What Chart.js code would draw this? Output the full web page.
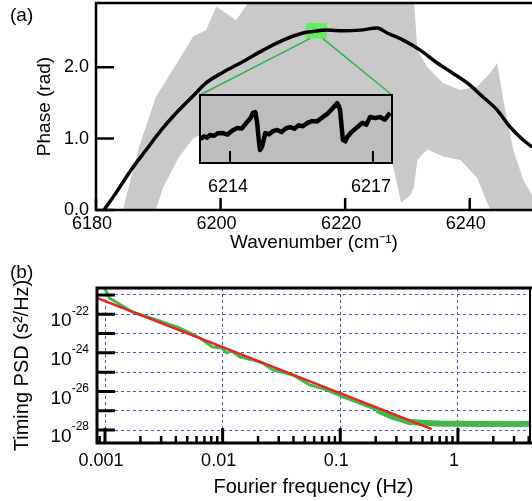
<!DOCTYPE html>
<html>
<head>
<meta charset="utf-8">
<script src="https://cdn.jsdelivr.net/npm/chart.js@4.4.0/dist/chart.umd.min.js"></script>
<style>
    body { margin: 0; background: #fff; }
    #lienzo { position: relative; width: 532px; height: 501px; font-family: "Liberation Sans", Arial, sans-serif; }
    canvas { position: absolute; }
    .panel { position: absolute; font-size: 19px; line-height: 20px; color: #000; }
</style>
</head>
<body>
<div id="lienzo">
    <canvas id="grafico-a" width="532" height="255" style="left:0;top:0"></canvas>
    <canvas id="grafico-b" width="532" height="246" style="left:0;top:255px"></canvas>
    <canvas id="grafico-inset" width="212" height="110" style="left:190px;top:90px"></canvas>
    <div class="panel" style="left:10px;top:5px">(a)</div>
    <div class="panel" style="left:10px;top:262px">(b)</div>
</div>
<script>
//Datos del panel (a): fase medida (curva negra)
const faseX = [6181.29, 6183.21, 6185.30, 6188.03, 6190.76, 6193.33, 6196.06, 6197.67, 6200.40, 6203.61, 6206.83,
    6210.04, 6213.25, 6214.86, 6217.11, 6219.68, 6222.41, 6225.14, 6226.75, 6229.32, 6232.05, 6234.78, 6236.87,
    6239.60, 6242.17, 6244.42, 6246.51, 6248.59, 6250.04];
const faseY = [0.00, 0.24, 0.52, 0.84, 1.15, 1.40, 1.64, 1.78, 1.93, 2.08, 2.24,
    2.38, 2.48, 2.50, 2.52, 2.51, 2.52, 2.55, 2.48, 2.38, 2.24, 2.06, 1.94,
    1.78, 1.58, 1.40, 1.16, 0.98, 0.88];

//Espectro gris de fondo (envolvente superior e inferior)
const grisX = [6184.3, 6186.9, 6189.6, 6190.8, 6193.3, 6195.6, 6197.7, 6199.3, 6202.5, 6205.2, 6227.6, 6229.0,
    6230.4, 6231.0, 6231.6, 6233.2, 6235.7, 6238.5, 6241.2, 6243.3, 6244.4, 6245.4, 6247.0, 6248.6, 6250];
const grisAlto = [0, 0.88, 1.58, 1.75, 2.10, 2.43, 2.52, 2.85, 2.66, 3.0, 3.0, 3.0,
    3.0, 3.0, 2.24, 2.00, 1.78, 1.68, 1.73, 1.92, 2.06, 1.54, 0.84, 0.42, 0.21];
const grisBajo = [0, 0, 0, 0.32, 0.74, 1.0, 1.1, 1.1, 1.1, 1.1, 0.65, 0.1,
    0.2, 0.3, 0.7, 0.85, 0.75, 0.70, 0.45, 0, 0, 0, 0, 0, 0];

//Detalle ampliado (inset)
const insetX = [6213.38, 6213.45, 6213.52, 6213.58, 6213.66, 6213.74, 6213.85, 6213.95, 6214.05, 6214.15, 6214.25,
    6214.36, 6214.43, 6214.48, 6214.53, 6214.57, 6214.60, 6214.63, 6214.67, 6214.70, 6214.74, 6214.82, 6214.90,
    6214.99, 6215.08, 6215.17, 6215.26, 6215.35, 6215.44, 6215.53, 6215.62, 6215.72, 6215.82, 6215.95, 6216.05,
    6216.16, 6216.25, 6216.28, 6216.31, 6216.37, 6216.42, 6216.46, 6216.55, 6216.67, 6216.78, 6216.86, 6216.94,
    6217.05, 6217.15, 6217.25, 6217.36];
const insetY = [2.478, 2.486, 2.482, 2.491, 2.488, 2.496, 2.497, 2.492, 2.505, 2.513, 2.512,
    2.533, 2.545, 2.562, 2.565, 2.529, 2.480, 2.442, 2.452, 2.470, 2.497, 2.493, 2.503,
    2.507, 2.500, 2.512, 2.516, 2.511, 2.522, 2.519, 2.529, 2.536, 2.534, 2.549, 2.560,
    2.578, 2.594, 2.586, 2.571, 2.474, 2.470, 2.484, 2.500, 2.516, 2.530, 2.524, 2.549,
    2.545, 2.549, 2.540, 2.562];
const rangoInsetX = [6213.37, 6217.4];
const rangoInsetY = [2.40, 2.62];

const ticksA_X = [6180, 6200, 6220, 6240];
const ticksA_Y = [0, 1, 2];
const ticksInset = [6214, 6217];

//Datos del panel (b): PSD de tiempo (verde) y ajuste (rojo)
const psdFrec = [0.00099, 0.00109, 0.00171, 0.00291, 0.0043, 0.0064, 0.0082, 0.0098, 0.0108, 0.0119, 0.0140,
    0.0180, 0.0219, 0.0267, 0.0394, 0.055, 0.0767, 0.105, 0.146, 0.205, 0.280, 0.390, 0.545, 0.745,
    1.04, 1.5, 2.2, 3.0, 4.1];
const psdValor = [2.3e-21, 7e-22, 1.32e-22, 4.5e-23, 1.95e-23, 5.9e-24, 2.0e-24, 1.8e-24, 1.0e-24, 1.26e-24, 6.2e-25,
    4.3e-25, 3.0e-25, 1.3e-25, 7.1e-26, 2.2e-26, 1.2e-26, 5.2e-27, 2.5e-27, 1.1e-27, 4.8e-28, 2.6e-28, 2.3e-28, 2.1e-28,
    2.1e-28, 2.05e-28, 2.15e-28, 2.0e-28, 2.1e-28];
const ajusteFrec = [0.000855, 0.6];
const ajusteValor = [7.0e-22, 1.12e-28];

const ticksB_X = [0.001, 0.01, 0.1, 1];
const ticksB_Y = [1e-21, 1e-22, 1e-23, 1e-24, 1e-25, 1e-26, 1e-27, 1e-28];

//Posicion del lienzo del inset dentro del panel (a)
const INSET_IZQ = 190;
const INSET_ARR = 90;
const FUENTE = '"Liberation Sans", Arial, sans-serif';

Chart.defaults.font.family = FUENTE;
Chart.defaults.color = '#000';

let graficoInset;
let graficoA;
let graficoB;

graficoInset = crearInset();
graficoA = crearPanelA();
graficoB = crearPanelB();

function puntos(xs, ys) {
    return xs.map(function (v, i) { return { x: v, y: ys[i] }; });
}

//Evitamos que Chart.js reserve espacio extra para las etiquetas de los extremos
function sinRelleno(s) {
    s.paddingTop = 0;
    s.paddingBottom = 0;
    s.paddingLeft = 0;
    s.paddingRight = 0;
}

//Ticks hacia adentro del area del grafico
function ticksAdentro(chart, eje, valores, largo, grosor) {
    const ctx = chart.ctx;
    const escala = chart.scales[eje];
    const area = chart.chartArea;
    ctx.save();
    ctx.strokeStyle = '#000';
    ctx.lineWidth = grosor;
    ctx.beginPath();
    valores.forEach(function (v) {
        const p = escala.getPixelForValue(v);
        if (escala.isHorizontal()) {
            ctx.moveTo(p, area.bottom);
            ctx.lineTo(p, area.bottom - largo);
        } else {
            ctx.moveTo(area.left, p);
            ctx.lineTo(area.left + largo, p);
        }
    });
    ctx.stroke();
    ctx.restore();
}

function marco(chart, grosor, grosorDer) {
    const ctx = chart.ctx;
    const a = chart.chartArea;
    ctx.save();
    ctx.strokeStyle = '#000';
    ctx.lineWidth = grosor;
    ctx.beginPath();
    ctx.moveTo(a.right + 2, a.top);
    ctx.lineTo(a.left, a.top);
    ctx.lineTo(a.left, a.bottom);
    ctx.lineTo(a.right + 2, a.bottom);
    ctx.stroke();
    if (grosorDer) {
        ctx.lineWidth = grosorDer;
        ctx.beginPath();
        ctx.moveTo(a.right, a.top);
        ctx.lineTo(a.right, a.bottom);
        ctx.stroke();
    }
    ctx.restore();
}

function crearInset() {
    return new Chart(document.getElementById('grafico-inset'), {
        type: 'line',
        data: {
            datasets: [{
                data: puntos(insetX, insetY),
                borderColor: '#000',
                borderWidth: 4.5,
                borderJoinStyle: 'round',
                pointRadius: 0,
                fill: false
            }]
        },
        options: {
            responsive: false,
            animation: false,
            events: [],
            layout: { padding: { left: 10, right: 10, top: 5, bottom: 0 } },
            plugins: { legend: { display: false }, tooltip: { enabled: false } },
            scales: {
                x: {
                    type: 'linear',
                    min: rangoInsetX[0],
                    max: rangoInsetX[1],
                    bounds: 'data',
                    afterBuildTicks: function (s) { s.ticks = ticksInset.map(function (v) { return { value: v }; }); },
                    afterFit: function (s) { s.height = 37; sinRelleno(s); },
                    grid: { display: false, drawTicks: false },
                    border: { display: false },
                    ticks: { padding: 13, labelOffset: -2, font: { size: 18 }, maxRotation: 0, autoSkip: false,
                        callback: function (v) { return String(v); } }
                },
                y: {
                    display: false,
                    min: rangoInsetY[0],
                    max: rangoInsetY[1]
                }
            }
        },
        plugins: [{
            id: 'cajaInset',
            beforeDatasetsDraw: function (chart) {
                const a = chart.chartArea;
                chart.ctx.save();
                chart.ctx.fillStyle = '#bdbdbd';
                chart.ctx.fillRect(a.left, a.top, a.right - a.left, a.bottom - a.top);
                chart.ctx.restore();
            },
            afterDraw: function (chart) {
                const a = chart.chartArea;
                const ctx = chart.ctx;
                ticksAdentro(chart, 'x', ticksInset, 12, 2);
                ctx.save();
                ctx.strokeStyle = '#000';
                ctx.lineWidth = 2;
                ctx.strokeRect(a.left, a.top, a.right - a.left, a.bottom - a.top);
                ctx.restore();
            }
        }]
    });
}

function crearPanelA() {
    return new Chart(document.getElementById('grafico-a'), {
        type: 'line',
        data: {
            datasets: [{
                data: puntos(faseX, faseY),
                borderColor: '#000',
                borderWidth: 3.5,
                cubicInterpolationMode: 'monotone',
                pointRadius: 0,
                fill: false
            }, {
                data: puntos(grisX, grisAlto),
                borderWidth: 0,
                pointRadius: 0,
                backgroundColor: '#c9c9c9',
                fill: '+1'
            }, {
                data: puntos(grisX, grisBajo),
                borderWidth: 0,
                pointRadius: 0,
                fill: false
            }]
        },
        options: {
            responsive: false,
            animation: false,
            events: [],
            layout: { padding: { top: 3, right: 0, bottom: 1, left: 0 } },
            plugins: { legend: { display: false }, tooltip: { enabled: false } },
            scales: {
                x: {
                    type: 'linear',
                    min: 6180,
                    max: 6250,
                    bounds: 'data',
                    afterBuildTicks: function (s) { s.ticks = ticksA_X.map(function (v) { return { value: v }; }); },
                    afterFit: function (s) { s.height = 44; sinRelleno(s); },
                    grid: { display: false, drawTicks: false },
                    border: { display: false },
                    ticks: { padding: 3, labelOffset: -4, font: { size: 18 }, maxRotation: 0, autoSkip: false,
                        callback: function (v) { return String(v); } },
                    title: { display: true, text: 'Wavenumber (cm⁻¹)', font: { size: 19 }, padding: { top: 0, bottom: 0 } }
                },
                y: {
                    type: 'linear',
                    min: 0,
                    max: 2.9,
                    bounds: 'data',
                    afterBuildTicks: function (s) { s.ticks = ticksA_Y.map(function (v) { return { value: v }; }); },
                    afterFit: function (s) { s.width = 96; sinRelleno(s); },
                    grid: { display: false, drawTicks: false },
                    border: { display: false },
                    ticks: { padding: 7, font: { size: 18 }, callback: function (v) { return v.toFixed(1); } },
                    title: { display: true, text: 'Phase (rad)', font: { size: 19 }, padding: { top: 33, bottom: 0 } }
                }
            }
        },
        plugins: [{
            id: 'zoomVerde',
            beforeDatasetDraw: function (chart, args) {
                //Caja verde y lineas hacia el inset, encima del gris y debajo de la curva negra
                if (args.index !== 0) return;
                const ctx = chart.ctx;
                const x = chart.scales.x;
                const y = chart.scales.y;
                const x0 = x.getPixelForValue(rangoInsetX[0]);
                const x1 = x.getPixelForValue(rangoInsetX[1]);
                const y0 = y.getPixelForValue(rangoInsetY[1]);
                const y1 = y.getPixelForValue(rangoInsetY[0]);
                const ia = graficoInset.chartArea;
                ctx.save();
                ctx.fillStyle = 'rgba(90, 240, 90, 0.9)';
                ctx.fillRect(x0 + 2, y0, x1 - x0 - 4, y1 - y0);
                ctx.strokeStyle = '#2fb04a';
                ctx.lineWidth = 1.5;
                ctx.beginPath();
                ctx.moveTo(x0 + 6, y1);
                ctx.lineTo(INSET_IZQ + ia.left, INSET_ARR + ia.top);
                ctx.moveTo(x1 - 6, y1);
                ctx.lineTo(INSET_IZQ + ia.right, INSET_ARR + ia.top);
                ctx.stroke();
                ctx.restore();
            },
            afterDraw: function (chart) {
                marco(chart, 2.5, 0);
                ticksAdentro(chart, 'y', ticksA_Y, 18, 2.5);
                ticksAdentro(chart, 'x', ticksA_X, 12, 2.5);
            }
        }]
    });
}

function crearPanelB() {
    //Ticks menores 2..9 de cada decada
    const menores = [];
    for (let e = -4; e <= 0; e++) {
        for (let m = 2; m <= 9; m++) {
            const v = m * Math.pow(10, e);
            if (v > 0.000855 && v < 4.1) menores.push(v);
        }
    }

    return new Chart(document.getElementById('grafico-b'), {
        type: 'line',
        data: {
            datasets: [{
                data: puntos(ajusteFrec, ajusteValor),
                borderColor: '#e82323',
                borderWidth: 2.5,
                pointRadius: 0,
                fill: false
            }, {
                data: puntos(psdFrec, psdValor),
                borderColor: '#42b84a',
                borderWidth: 3,
                pointRadius: 0,
                fill: false,
                segment: {
                    borderWidth: function (ctx) { return ctx.p0.parsed.x > 0.2 ? 6 : 3; }
                }
            }]
        },
        options: {
            responsive: false,
            animation: false,
            events: [],
            layout: { padding: { top: 33, right: 2, bottom: 0, left: 0 } },
            plugins: { legend: { display: false }, tooltip: { enabled: false } },
            scales: {
                x: {
                    type: 'logarithmic',
                    min: 0.000855,
                    max: 4.1,
                    bounds: 'data',
                    afterBuildTicks: function (s) { s.ticks = ticksB_X.map(function (v) { return { value: v }; }); },
                    afterFit: function (s) { s.height = 58; sinRelleno(s); },
                    grid: { color: '#5151a8', lineWidth: 1, drawTicks: false },
                    border: { display: false, dash: [3, 3] },
                    ticks: { padding: 7, labelOffset: -4, font: { size: 18 }, maxRotation: 0, autoSkip: false,
                        callback: function (v) { return String(v); } },
                    title: { display: true, text: 'Fourier frequency (Hz)', font: { size: 20 }, padding: { top: 0, bottom: 2 } }
                },
                y: {
                    type: 'logarithmic',
                    min: 2.14e-29,
                    max: 2.29e-21,
                    bounds: 'data',
                    afterBuildTicks: function (s) { s.ticks = ticksB_Y.map(function (v) { return { value: v }; }); },
                    afterFit: function (s) { s.width = 97; sinRelleno(s); },
                    grid: { color: '#5151a8', lineWidth: 1, drawTicks: false },
                    border: { display: false, dash: [3, 3] },
                    ticks: { display: false },
                    title: { display: true, text: 'Timing PSD (s²/Hz)', font: { size: 20 }, padding: { top: 10, bottom: 0 } }
                }
            }
        },
        plugins: [{
            id: 'marcoB',
            afterDraw: function (chart) {
                const ctx = chart.ctx;
                const y = chart.scales.y;
                marco(chart, 3, 2);
                ticksAdentro(chart, 'y', ticksB_Y, 18, 3);
                ticksAdentro(chart, 'x', ticksB_X, 15, 3);
                ticksAdentro(chart, 'x', menores, 7, 2.5);

                //Etiquetas 10^n con exponente elevado, solo exponentes pares
                ctx.save();
                ctx.fillStyle = '#000';
                ctx.textAlign = 'right';
                ctx.textBaseline = 'middle';
                ticksB_Y.forEach(function (v) {
                    const e = Math.round(Math.log10(v));
                    if (e % 2 !== 0) return;
                    const p = y.getPixelForValue(v);
                    const exp = String(e);
                    ctx.font = '12px ' + FUENTE;
                    ctx.fillText(exp, 89, p - 3);
                    const ancho = ctx.measureText(exp).width;
                    ctx.font = '19px ' + FUENTE;
                    ctx.fillText('10', 89 - ancho, p + 7);
                });
                ctx.restore();
            }
        }]
    });
}
</script>
</body>
</html>
